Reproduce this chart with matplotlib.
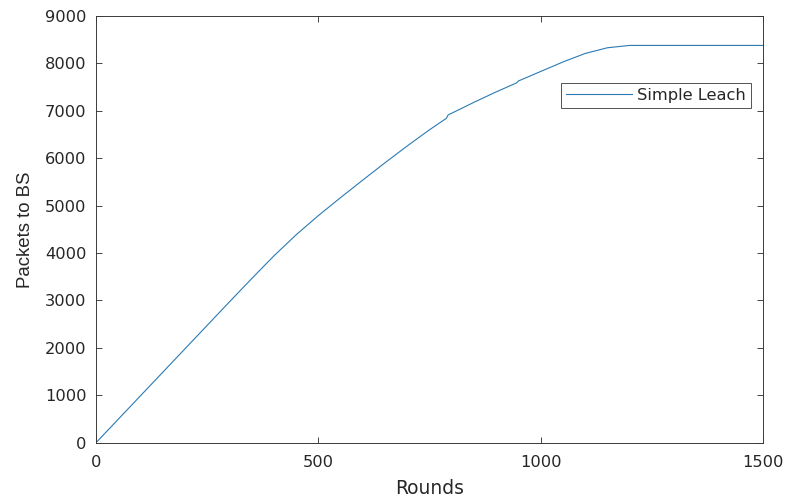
import matplotlib
matplotlib.use('Agg')
import matplotlib.pyplot as plt

# values
rounds = [0, 100, 200, 300, 350, 400, 450, 500, 550, 600, 650, 700, 750, 788, 792,
          800, 850, 900, 946, 950, 1000, 1050, 1100, 1150, 1200, 1500]
packets = [0, 990, 1980, 2970, 3460, 3940, 4385, 4790, 5170, 5540, 5905, 6260, 6600, 6843, 6915,
           6950, 7180, 7400, 7590, 7630, 7830, 8030, 8210, 8330, 8380, 8380]

series_label = 'Simple Leach'
x_ticks = [0, 500, 1000, 1500]
y_ticks = [0, 1000, 2000, 3000, 4000, 5000, 6000, 7000, 8000, 9000]

# the reference text is a bit wide, DejaVu fits the horizontal text better
plt.rcParams['font.family'] = ['DejaVu Sans']
dark = '#262626'

fig = plt.figure(figsize=(7.89, 4.99), dpi=100)
ax = fig.add_axes([0.1217, 0.1128, 0.8453, 0.8551])

ax.plot(rounds, packets, color='#2a7ab5', lw=0.8, label=series_label)

ax.set_xlim(0, 1500)
ax.set_ylim(0, 9000)
ax.set_xticks(x_ticks)
ax.set_yticks(y_ticks)
ax.tick_params(direction='in', top=True, right=True, length=4, width=0.6,
               colors=dark, labelsize=11.7)
ax.tick_params(axis='x', pad=9)
ax.tick_params(axis='y', pad=7)
for s in ax.spines.values():
    s.set_color('#3a3a3a')
    s.set_linewidth(0.7)

ax.set_xlabel('Rounds', fontsize=13.4, color=dark, labelpad=6)
ax.set_ylabel('Packets to BS', fontsize=13.4, color=dark, labelpad=8,
              family='Liberation Sans')

leg = ax.legend(loc='upper right', bbox_to_anchor=(0.982, 0.843), borderaxespad=0,
                fancybox=False, fontsize=11.7, handlelength=4.1, handletextpad=0.3,
                borderpad=0.3)
leg.get_frame().set_edgecolor(dark)
leg.get_frame().set_linewidth(0.7)
for t in leg.get_texts():
    t.set_color(dark)

fig.savefig('out.png', dpi=100)
